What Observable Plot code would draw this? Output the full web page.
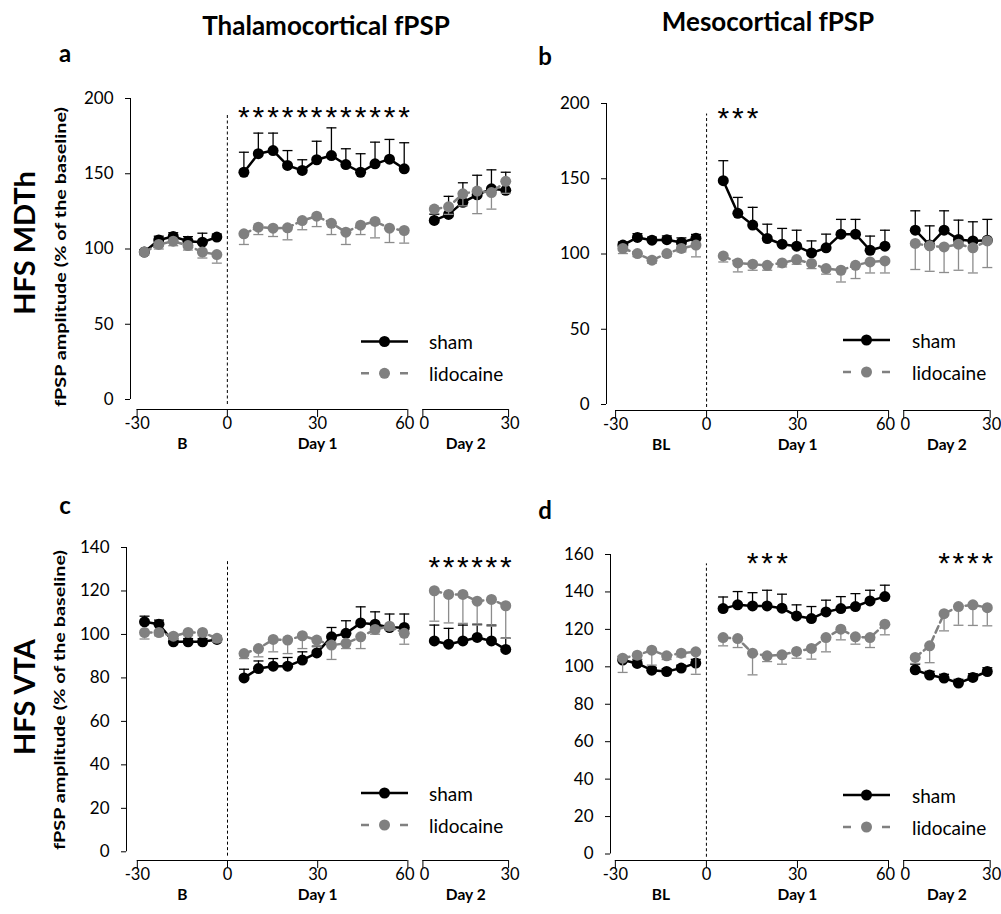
<!DOCTYPE html>
<html><head><meta charset="utf-8">
<script src="https://cdn.jsdelivr.net/npm/d3@7"></script>
<script src="https://cdn.jsdelivr.net/npm/@observablehq/plot@0.6"></script>
<style>
html,body{margin:0;padding:0;background:#fff;}
#root{position:relative;width:1001px;height:914px;overflow:hidden;font-family:Lato,sans-serif;}
#root > svg{position:absolute;}
</style></head><body><div id="root"></div>
<script>
// ---------- time points (minutes) ----------
const phase = ["BL","BL","BL","BL","BL","BL",
  "D1","D1","D1","D1","D1","D1","D1","D1","D1","D1","D1","D1",
  "D2","D2","D2","D2","D2","D2"];
const timeMin = [-27.6,-22.8,-18,-13.1,-8.3,-3.5,
  5.5,10.3,15.2,20,24.9,29.7,34.6,39.4,44.3,49.1,53.9,58.8,
  4,9,14,19,24,29];
const xTicksDay1 = [-30, 0, 30, 60];
const xTicksDay2 = [0, 30];
const DAY2_OFFSET = 65, DAY2_SCALE = 0.95;

// ---------- panel a: Thalamocortical, HFS MDTh ----------
const aShamMean = [98,106,108.3,105.2,104.5,107.9, 151,163.3,165.4,155.5,152.2,159.3,162.1,156.1,151,156.6,159.7,153.3, 119,123,131,136,140,139];
const aShamSem  = [1.5,2.5,2.5,3,6,2, 13.3,13.7,11.6,9.9,7.1,12.3,18.4,10.5,12.3,14.4,13.1,17.3, 4,12,13,13,12.6,12];
const aLidoMean = [98,103,105.2,102.3,98,96.3, 110.1,114.5,113.8,114.1,118.9,121.8,117.1,111.2,115.8,118.3,113.8,112.3, 126.5,128,136.7,138.5,137.5,145];
const aLidoSem  = [2,3,3,3,4,5.7, 7.1,4.9,5.5,8,6.1,6.9,7.5,8.2,6.2,10.9,9.5,8.4, 3,5,8,15,11,8];
const aStars = [6,7,8,9,10,11,12,13,14,15,16,17];

// ---------- panel b: Mesocortical, HFS MDTh ----------
const bShamMean = [105.9,111,109.2,109.5,107.7,110.5, 148.7,127,119.2,110.3,106.5,105.2,100.7,104.1,113.2,113.2,102.5,105.2, 115.8,105.9,115.8,109.7,108.7,109.2];
const bShamSem  = [2,2.5,2,2.5,3,2.5, 13.3,10.6,11.8,9.5,10.5,10.6,8,9.1,9.8,9.8,9.4,10.6, 12.9,12.8,12.9,12.8,12.7,13.8];
const bLidoMean = [103.7,100.3,95.9,100.3,103.7,105.9, 98.7,94.1,93.2,92.5,94.1,96.3,93.7,90.3,89.2,92.5,94.7,95.4, 107,105.4,104.7,106.5,104.1,108.7];
const bLidoSem  = [3.4,2,2,2,2.3,7.8, 4,6,4,3.3,2.7,3.1,3.4,3.7,7.8,8.8,7.3,8, 17.3,16.9,17,17.3,16.7,17.7];
const bStars = [6,7,8];

// ---------- panel c: Thalamocortical, HFS VTA ----------
const cShamMean = [105.8,104.7,96.6,96.6,96.6,97.7, 80,84.3,85.4,85.4,88.2,91.5,98.9,100.5,105.3,104.7,103.2,103.2, 97,95.5,97,98.6,97,93.1];
const cShamSem  = [2.6,1.9,1.5,1.5,1.5,1.5, 4,3.5,3.5,4,3.8,3.1,4.3,5.8,7.4,5.7,6.2,6.2, 7.3,7.3,7.3,6.1,7.3,5.2];
const cLidoMean = [100.9,100.9,99.2,100.9,100.9,98.2, 91.2,93.5,97.7,97.4,99.4,97.4,95.1,95.9,98.9,102.3,103.8,100.5, 120.1,118.4,118.4,115.3,116.1,113.2];
const cLidoSem  = [3,1.5,1.5,1.5,1.5,1.5, 2.3,3.8,5.7,6.2,5.9,3.1,6.6,2.4,5.4,2.2,1.8,5, 14,13.1,13.3,11,12.3,15];
const cStars = [18,19,20,21,22,23];

// ---------- panel d: Mesocortical, HFS VTA ----------
const dShamMean = [103.6,101.8,98.2,97.5,99.3,102, 131.1,133.1,132.5,132.5,131.3,127.2,125.8,129.3,131.1,132.2,135.2,137.5, 98.4,95.6,94,91.3,94.3,97.5];
const dShamSem  = [2,2,1.5,1.5,1.5,2, 6.2,7.1,7.1,8.4,7.5,5.9,6.4,6.3,6.4,6.9,5.7,6.1, 3,2,2,2,2,2];
const dLidoMean = [104.6,106.2,108.9,105.9,107.3,108, 115.6,115.1,107.3,105.9,106.4,108.2,109.8,115.6,120.1,116,115.6,122.8, 105,111.2,128.4,132.2,133.1,131.6];
const dLidoSem  = [7.6,2,8,2,2,12, 4.4,4.8,11.6,3.1,5,3.6,5.7,7.6,5.7,3.9,5.3,5.7, 3.2,9,9.2,10,11,9.7];
const dStars = [8,9,10,20,21,22,23];

// ---------- texts ----------
const columnTitles = ["Thalamocortical fPSP", "Mesocortical fPSP"];
const rowTitles = ["HFS MDTh", "HFS VTA"];
const yAxisTitle = "fPSP amplitude (% of the baseline)";
const seriesNames = ["sham", "lidocaine"];
const phaseNames = {a: ["B","Day 1","Day 2"], b: ["BL","Day 1","Day 2"], c: ["B","Day 1","Day 2"], d: ["BL","Day 1","Day 2"]};

const SHAM = "#000000", LIDO = "#808080", LIDO_ERR = "#8c8c8c";
const FONT = "Lato, 'Open Sans', sans-serif";

const panels = [
  {key:"a", left:0,   top:80,  width:530, height:380, axisPx:130, rightPx:512, topPx:98,  zeroPx:399,   basePx:409, xDomain:[-32.2,94.8], yMax:200, yTicks:[0,50,100,150,200], dividerTop:189, starLevel:192.7,
   sham:[aShamMean,aShamSem], lido:[aLidoMean,aLidoSem], stars:aStars},
  {key:"b", left:480, top:80,  width:521, height:380, axisPx:606, rightPx:1000, topPx:103, zeroPx:404,  basePx:410, xDomain:[-33,96.9], yMax:200, yTicks:[0,50,100,150,200], dividerTop:193, starLevel:195.7,
   sham:[bShamMean,bShamSem], lido:[bLidoMean,bLidoSem], stars:bStars},
  {key:"c", left:0,   top:530, width:530, height:384, axisPx:126, rightPx:512, topPx:547, zeroPx:851.3, basePx:860, xDomain:[-33.6,94.8], yMax:140, yTicks:[0,20,40,60,80,100,120,140], dividerTop:134, starLevel:134.7,
   sham:[cShamMean,cShamSem], lido:[cLidoMean,cLidoSem], stars:cStars},
  {key:"d", left:480, top:530, width:521, height:384, axisPx:610, rightPx:1000, topPx:554, zeroPx:853.5, basePx:860, xDomain:[-31.6,96.9], yMax:160, yTicks:[0,20,40,60,80,100,120,140,160], dividerTop:155, starLevel:159.7,
   sham:[dShamMean,dShamSem], lido:[dLidoMean,dLidoSem], stars:dStars}
];

const xOf = (t, p) => p === "D2" ? DAY2_OFFSET + t * DAY2_SCALE : t;
function rows(mean, sem) {
  return timeMin.map((t, i) => ({x: xOf(t, phase[i]), phase: phase[i], mean: mean[i], sem: sem[i]}));
}
const capSymbol = {draw(ctx, size) { const r = Math.sqrt(size / Math.PI); ctx.moveTo(-r, 0); ctx.lineTo(r, 0); }};

const root = document.getElementById("root");

for (const cfg of panels) {
  const pxPerUnit = (cfg.zeroPx - cfg.topPx) / cfg.yMax;
  const yBase = -(cfg.basePx - cfg.zeroPx) / pxPerUnit;
  const tickLen = 8 / pxPerUnit;
  const sham = rows(...cfg.sham);
  const lido = rows(...cfg.lido);
  const starRows = cfg.stars.map(i => sham[i]);
  const day1Ticks = xTicksDay1.map(t => ({x: xOf(t, "D1"), label: String(t)}));
  const day2Ticks = xTicksDay2.map(t => ({x: xOf(t, "D2"), label: String(t)}));
  const allTicks = [...day1Ticks, ...day2Ticks];
  const segs = [
    {x1: day1Ticks[0].x, x2: day1Ticks[3].x},
    {x1: day2Ticks[0].x, x2: day2Ticks[1].x}
  ];
  const names = phaseNames[cfg.key];
  const segLabels = [
    {x: (xTicksDay1[0] + xTicksDay1[1]) / 2, label: names[0]},
    {x: (xTicksDay1[1] + xTicksDay1[3]) / 2, label: names[1]},
    {x: xOf((xTicksDay2[0] + xTicksDay2[1]) / 2, "D2"), label: names[2]}
  ];

  const svg = Plot.plot({
    width: cfg.width, height: cfg.height,
    marginTop: cfg.topPx - cfg.top,
    marginBottom: cfg.top + cfg.height - cfg.basePx,
    marginLeft: cfg.axisPx - cfg.left,
    marginRight: cfg.left + cfg.width - cfg.rightPx,
    style: {fontFamily: FONT, fontSize: "17px", color: "#000", background: "transparent", overflow: "visible"},
    x: {domain: cfg.xDomain, axis: null},
    y: {domain: [yBase, cfg.yMax], axis: null},
    marks: [
      // y axis
      Plot.ruleX([cfg.xDomain[0]], {y1: 0, y2: cfg.yMax, stroke: "#000", strokeWidth: 1}),
      Plot.axisY({ticks: cfg.yTicks, tickSize: 5, tickPadding: 12, label: null, fontSize: 17}),
      // detached, broken x axis
      Plot.ruleY(segs, {x1: "x1", x2: "x2", y: yBase, stroke: "#000", strokeWidth: 1}),
      Plot.ruleX(allTicks, {x: "x", y1: yBase, y2: yBase - tickLen, stroke: "#000", strokeWidth: 1}),
      Plot.text(day1Ticks.slice(0, 3), {x: "x", text: "label", frameAnchor: "bottom", dy: 19, fontSize: 16.5}),
      Plot.text(day1Ticks.slice(3), {x: "x", text: "label", frameAnchor: "bottom", dy: 19, dx: -3, fontSize: 16.5}),
      Plot.text(day2Ticks, {x: "x", text: "label", frameAnchor: "bottom", dy: 19, dx: 1.5, fontSize: 16.5}),
      Plot.text(segLabels, {x: "x", text: "label", frameAnchor: "bottom", dy: 39, fontWeight: "bold", fontSize: 15.5}),
      // divider at time 0
      Plot.ruleX([0], {y1: yBase * 0.5, y2: cfg.dividerTop, stroke: "#000", strokeWidth: 1, strokeDasharray: "3,2.5"}),
      // sham
      Plot.ruleX(sham, {x: "x", y1: "mean", y2: d => d.mean + d.sem, stroke: SHAM, strokeWidth: 1.3}),
      Plot.dot(sham, {x: "x", y: d => d.mean + d.sem, symbol: capSymbol, r: 5, stroke: SHAM, fill: "none", strokeWidth: 1.3}),
      Plot.line(sham, {x: "x", y: "mean", z: "phase", stroke: SHAM, strokeWidth: 2.5}),
      Plot.dot(sham, {x: "x", y: "mean", r: 5.5, fill: SHAM, stroke: "none"}),
      // lidocaine
      Plot.ruleX(lido, {x: "x", y1: "mean", y2: d => d.mean - d.sem, stroke: LIDO_ERR, strokeWidth: 1.3}),
      Plot.dot(lido, {x: "x", y: d => d.mean - d.sem, symbol: capSymbol, r: 5, stroke: LIDO_ERR, fill: "none", strokeWidth: 1.3}),
      Plot.line(lido, {x: "x", y: "mean", z: "phase", stroke: LIDO, strokeWidth: 2.5, strokeDasharray: "7,4"}),
      Plot.dot(lido, {x: "x", y: "mean", r: 5.5, fill: LIDO, stroke: "none"}),
      // significance
      Plot.text(starRows, {x: "x", y: cfg.starLevel, text: () => "*", fontSize: 30, fontFamily: "'Liberation Sans', Arial, sans-serif", dy: 8})
    ]
  });
  svg.style.left = cfg.left + "px";
  svg.style.top = cfg.top + "px";
  root.appendChild(svg);
}

// ---------- overlay text & legends ----------
const NS = "http://www.w3.org/2000/svg";
const ov = document.createElementNS(NS, "svg");
ov.setAttribute("width", 1001); ov.setAttribute("height", 914);
ov.style.left = "0px"; ov.style.top = "0px";
ov.style.fontFamily = FONT;
root.insertBefore(ov, root.firstChild);
function el(tag, attrs, text) {
  const e = document.createElementNS(NS, tag);
  for (const k in attrs) e.setAttribute(k, attrs[k]);
  if (text != null) e.textContent = text;
  ov.appendChild(e);
  return e;
}
// column titles
el("text", {x: 326, y: 35, "text-anchor": "middle", "font-weight": "bold", "font-size": 26}, columnTitles[0]);
el("text", {x: 768, y: 31, "text-anchor": "middle", "font-weight": "bold", "font-size": 26}, columnTitles[1]);
// panel letters
[["a",65,62],["b",545,65],["c",65,514],["d",545,519]].forEach(([t,x,y]) =>
  el("text", {x, y, "text-anchor": "middle", "font-weight": "bold", "font-size": 24}, t));
// row titles & y-axis titles
[[rowTitles[0], 23, 243], [rowTitles[1], 23, 697]].forEach(([t,x,y]) =>
  el("text", {transform: `translate(${x},${y}) rotate(-90)`, "text-anchor": "middle", "dominant-baseline": "central", "font-weight": "bold", "font-size": 29}, t));
[[59, 257], [58, 700]].forEach(([x,y]) =>
  el("text", {transform: `translate(${x},${y}) rotate(-90)`, "text-anchor": "middle", "dominant-baseline": "central", "font-weight": "bold", "font-size": 16, textLength: 300, lengthAdjust: "spacingAndGlyphs"}, yAxisTitle));
// legends
const legends = [
  {x1:361, x2:408, tx:429, y1:341.5, y2:373.3},
  {x1:843, x2:890, tx:912, y1:340,   y2:372},
  {x1:361, x2:408, tx:429, y1:793,   y2:825},
  {x1:843, x2:890, tx:912, y1:795,   y2:827}
];
for (const L of legends) {
  const cx = (L.x1 + L.x2) / 2;
  el("line", {x1: L.x1, x2: L.x2, y1: L.y1, y2: L.y1, stroke: SHAM, "stroke-width": 2.5});
  el("circle", {cx, cy: L.y1, r: 5.5, fill: SHAM});
  el("text", {x: L.tx, y: L.y1, "dominant-baseline": "central", "font-size": 19}, seriesNames[0]);
  el("line", {x1: L.x1, x2: L.x2, y1: L.y2, y2: L.y2, stroke: LIDO, "stroke-width": 2.5, "stroke-dasharray": "8,31"});
  el("circle", {cx, cy: L.y2, r: 5.5, fill: LIDO});
  el("text", {x: L.tx, y: L.y2, "dominant-baseline": "central", "font-size": 19}, seriesNames[1]);
}
</script></body></html>
